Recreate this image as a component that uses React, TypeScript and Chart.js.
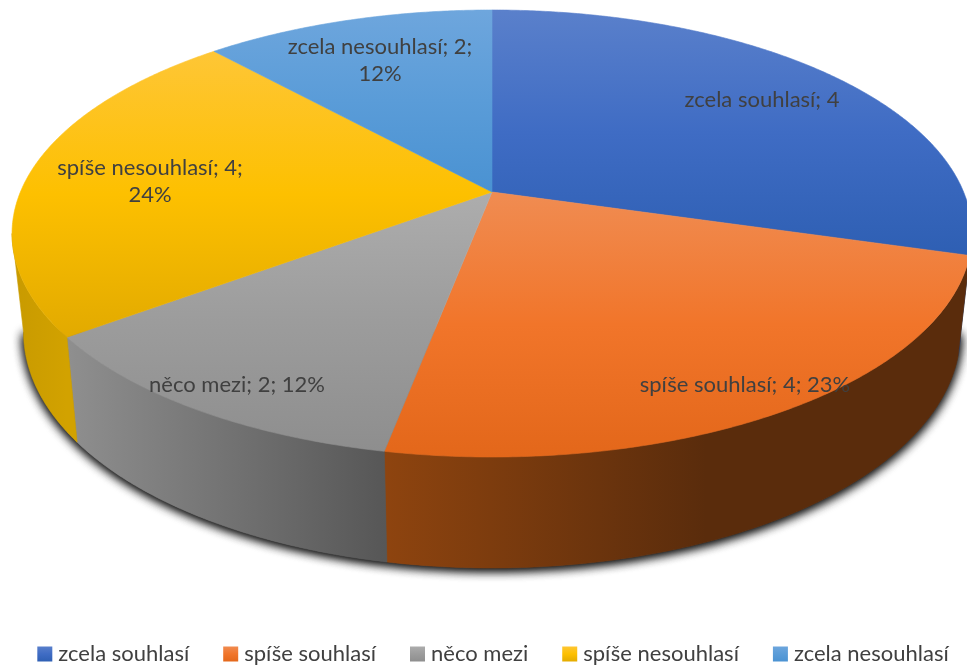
import React, { useEffect, useRef } from "react";
import { Chart, PieController, ArcElement, Legend } from "chart.js";

const categories = ["zcela souhlasí", "spíše souhlasí", "něco mezi", "spíše nesouhlasí", "zcela nesouhlasí"];
const values = [4.425, 3.5235, 1.77, 3.5265, 1.755];
const showPercent = [false, true, true, true, true];
const baseColors = ["#3a68c0", "#f0752a", "#a0a0a0", "#fbbd08", "#5b9bd5"];
const faceStops = [
  ["#5a80cb", "#3f6cc4", "#2e5fb3"],
  ["#f08c52", "#f1752a", "#e3671a"],
  ["#adadad", "#9c9c9c", "#8e8e8e"],
  ["#fec636", "#fdc000", "#e2aa00"],
  ["#6ea6dd", "#5a9cd8", "#4a92d2"],
];
const wallStops = [
  ["#23477f", "#23477f"],
  ["#8e440f", "#5a2c0c"],
  ["#8f8f8f", "#575757"],
  ["#c89a00", "#d2a200"],
  ["#23477f", "#23477f"],
];

const FONT = "Lato, 'Open Sans', sans-serif";
const TEXT = "#404040";
const CX = 492, CY = 192, K = 0.1857, A = 471.6, B = 215.8;
const WALL_FROM = (Math.acos(-K) * 1), WALL_TO = 2 * Math.PI - Math.acos(-K);
const LABEL_POS = [[762, 100], [745, 385], [237, 385], [150, 181], [380, 60]];

function rim(t: number) {
  const u = Math.sin(t), v = -Math.cos(t), w = 1 - K * v;
  return { x: CX + (A * u) / w, y: CY + (B * v) / w, v };
}
function low(t: number) {
  const p = rim(t);
  return { x: CX + (p.x - CX) * 0.976, y: p.y + 96 + 15 * p.v };
}
function angles(a: number, b: number) {
  const out: number[] = [];
  const n = Math.max(2, Math.ceil((b - a) / 0.008));
  for (let i = 0; i <= n; i++) out.push(a + ((b - a) * i) / n);
  return out;
}

class Arc3D extends ArcElement {
  static id = "arc3d";
  draw(ctx: CanvasRenderingContext2D) {
    const { startAngle, endAngle } = (this as any).getProps(["startAngle", "endAngle"]);
    const a = startAngle + Math.PI / 2, b = endAngle + Math.PI / 2;
    const i = (this as any).$context.dataIndex;
    ctx.save();
    const wa = Math.max(a, WALL_FROM), wb = Math.min(b, WALL_TO);
    if (wb > wa) {
      const ts = angles(wa, wb);
      const x0 = Math.min(...ts.map((t) => rim(t).x)), x1 = Math.max(...ts.map((t) => rim(t).x));
      const g = ctx.createLinearGradient(x1, 0, x0, 0);
      if (i === 1) {
        g.addColorStop(0, wallStops[i][1]);
        g.addColorStop(0.45, wallStops[i][1]);
        g.addColorStop(1, wallStops[i][0]);
      } else {
        g.addColorStop(0, wallStops[i][1]);
        g.addColorStop(1, wallStops[i][0]);
      }
      ctx.fillStyle = g;
      ctx.strokeStyle = g;
      ctx.lineWidth = 0.6;
      ctx.beginPath();
      ts.forEach((t, n) => {
        const p = rim(t);
        n ? ctx.lineTo(p.x, p.y) : ctx.moveTo(p.x, p.y);
      });
      [...ts].reverse().forEach((t) => {
        const p = low(t);
        ctx.lineTo(p.x, p.y);
      });
      ctx.closePath();
      ctx.fill();
      ctx.stroke();
    }
    const ts = angles(a, b);
    const ys = ts.map((t) => rim(t).y).concat(CY);
    const y0 = Math.min(...ys), y1 = Math.max(...ys);
    const f = ctx.createLinearGradient(0, y0, 0, y1);
    faceStops[i].forEach((c, n) => f.addColorStop(n / 2, c));
    ctx.fillStyle = f;
    ctx.strokeStyle = f;
    ctx.lineWidth = 0.6;
    ctx.beginPath();
    ctx.moveTo(CX, CY);
    ts.forEach((t) => {
      const p = rim(t);
      ctx.lineTo(p.x, p.y);
    });
    ctx.closePath();
    ctx.fill();
    ctx.stroke();
    ctx.restore();
  }
}
class Pie3D extends PieController {
  static id = "pie3d";
  static defaults = { ...(PieController as any).defaults, dataElementType: "arc3d" };
}
Chart.register(Arc3D as any, Pie3D as any, Legend);

const shadowPlugin = {
  id: "pieShadow",
  beforeDatasetsDraw(chart: any) {
    const ctx = chart.ctx;
    ctx.save();
    ctx.shadowColor = "rgba(0,0,0,0.9)";
    ctx.shadowBlur = 11;
    ctx.shadowOffsetY = 2;
    ctx.fillStyle = "#555";
    for (let pass = 0; pass < 2; pass++) {
      ctx.beginPath();
      angles(WALL_FROM, WALL_TO).forEach((t, n) => {
        const p = low(t);
        n ? ctx.lineTo(p.x, p.y) : ctx.moveTo(p.x, p.y);
      });
      ctx.closePath();
      ctx.fill();
    }
    ctx.restore();
  },
};

const labelPlugin = {
  id: "sliceLabels",
  afterDatasetsDraw(chart: any) {
    const ctx = chart.ctx;
    const data: number[] = chart.data.datasets[0].data;
    const total = data.reduce((s, v) => s + v, 0);
    ctx.save();
    ctx.font = `22px ${FONT}`;
    ctx.fillStyle = TEXT;
    ctx.textAlign = "center";
    ctx.textBaseline = "middle";
    data.forEach((v, i) => {
      const head = `${categories[i]}; ${Math.round(v)}`;
      const pct = `${Math.round((v / total) * 100)}%`;
      const [x, y] = LABEL_POS[i];
      if (!showPercent[i]) ctx.fillText(head, x, y);
      else if (i === 3 || i === 4) {
        ctx.fillText(`${head};`, x, y - 13);
        ctx.fillText(pct, x, y + 14);
      } else ctx.fillText(`${head}; ${pct}`, x, y);
    });
    ctx.restore();
  },
};

export default function App() {
  const ref = useRef<HTMLCanvasElement>(null);
  useEffect(() => {
    const canvas = ref.current!;
    const chart = new Chart(canvas, {
      type: "pie3d" as any,
      data: {
        labels: categories,
        datasets: [{ data: values, backgroundColor: baseColors, borderWidth: 0 }],
      },
      options: {
        responsive: false,
        animation: false,
        layout: { padding: { bottom: -10, left: -8, right: -32 } },
        plugins: {
          tooltip: { enabled: false },
          legend: {
            display: true,
            position: "bottom",
            labels: {
              color: TEXT,
              font: { family: FONT, size: 22 },
              boxWidth: 5,
              boxHeight: 5,
              padding: 39,
              generateLabels(c: any) {
                return categories.map((text, i) => {
                  const g = c.ctx.createLinearGradient(0, 646, 0, 662);
                  faceStops[i].forEach((s, n) => g.addColorStop(n / 2, s));
                  return { text, fillStyle: g, strokeStyle: g, lineWidth: 10, index: i, fontColor: TEXT };
                });
              },
            },
          },
        },
      } as any,
      plugins: [shadowPlugin, labelPlugin],
    });
    return () => chart.destroy();
  }, []);
  return (
    <canvas
      ref={ref}
      width={967}
      height={665}
      style={{ position: "absolute", left: 0, top: 0, display: "block" }}
    />
  );
}
